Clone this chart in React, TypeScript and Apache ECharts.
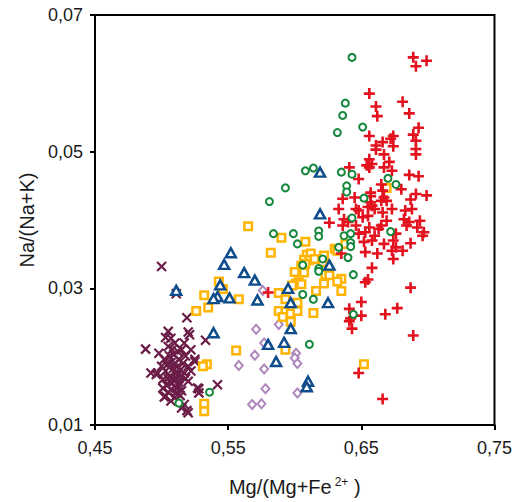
import React, { useEffect, useRef } from "react";
import * as echarts from "echarts";

const xTicks = [0.45, 0.55, 0.65, 0.75];
const yTicks = [0.01, 0.03, 0.05, 0.07];

const groupX: number[][] = [
  [0.500,0.0332],[0.511,0.0292],[0.519,0.0257],[0.505,0.0237],[0.521,0.0232],[0.533,0.0224],[0.488,0.0211],[0.542,0.0159],[0.528,0.0153],[0.519,0.0121],[0.502,0.0141],[0.492,0.0176],[0.525,0.0193],[0.520,0.0236],[0.507,0.0227],[0.510,0.0220],[0.498,0.0205],[0.515,0.0210],[0.522,0.0210],[0.506,0.0201],[0.518,0.0201],[0.525,0.0196],[0.507,0.0191],[0.512,0.0186],[0.500,0.0186],[0.520,0.0186],[0.496,0.0174],[0.503,0.0179],[0.510,0.0176],[0.522,0.0179],[0.515,0.0171],[0.501,0.0167],[0.506,0.0164],[0.513,0.0162],[0.520,0.0164],[0.527,0.0154],[0.501,0.0154],[0.507,0.0152],[0.515,0.0150],[0.503,0.0142],[0.510,0.0140],[0.528,0.0147],[0.507,0.0135],[0.517,0.0130],[0.515,0.0125],[0.520,0.0118],[0.511,0.0154],[0.505,0.0215],[0.508,0.0210],[0.517,0.0220],[0.506,0.0171],[0.502,0.0196],[0.497,0.0176],[0.510,0.0190],[0.514,0.0180],[0.508,0.0161],[0.511,0.0169],[0.517,0.0176],[0.511,0.0147],[0.504,0.0158],[0.513,0.0157],[0.509,0.0183],
  [0.509,0.0203],[0.513,0.0196],[0.504,0.0188],[0.516,0.0190],[0.505,0.0168],[0.512,0.0173],[0.509,0.0166],[0.514,0.0143],[0.505,0.0148],[0.518,0.0168],[0.512,0.0208],[0.503,0.0228]
];

const groupDiamond: number[][] = [
  [0.571,0.0240],[0.570,0.0202],[0.558,0.0187],[0.568,0.0130],[0.576,0.0297],[0.588,0.0247],[0.577,0.0220],[0.601,0.0205],[0.600,0.0198],[0.602,0.0190],[0.577,0.0182],[0.578,0.0153],[0.602,0.0147],[0.575,0.0131]
];

const groupSquare: number[][] = [
  [0.543,0.0310],[0.546,0.0299],[0.532,0.0290],[0.558,0.0284],[0.535,0.0272],[0.526,0.0267],[0.556,0.0209],[0.534,0.0189],[0.531,0.0186],[0.532,0.0131],[0.532,0.0120],[0.565,0.0391],[0.590,0.0374],[0.582,0.0352],[0.608,0.0368],[0.630,0.0358],[0.638,0.0365],[0.609,0.0349],[0.612,0.0351],[0.607,0.0342],[0.611,0.0341],[0.615,0.0343],[0.608,0.0336],[0.605,0.0333],[0.622,0.0348],[0.621,0.0338],[0.600,0.0324],[0.607,0.0323],[0.623,0.0320],[0.626,0.0319],[0.635,0.0314],[0.632,0.0310],[0.603,0.0309],[0.601,0.0307],[0.598,0.0304],[0.605,0.0306],[0.622,0.0307],[0.635,0.0296],[0.616,0.0296],[0.588,0.0293],[0.593,0.0284],[0.602,0.0279],[0.588,0.0267],[0.593,0.0266],[0.597,0.0263],[0.602,0.0267],[0.591,0.0258],[0.597,0.0251],[0.614,0.0264],[0.593,0.0210],[0.652,0.0189],[0.669,0.0447],[0.632,0.0355]
];

const groupTriangle: number[][] = [
  [0.552,0.0352],[0.547,0.0335],[0.562,0.0323],[0.570,0.0312],[0.544,0.0305],[0.511,0.0297],[0.542,0.0288],[0.539,0.0285],[0.551,0.0286],[0.572,0.0283],[0.539,0.0235],[0.619,0.0470],[0.619,0.0409],[0.595,0.0300],[0.597,0.0279],[0.626,0.0334],[0.625,0.0279],[0.597,0.0241],[0.580,0.0218],[0.592,0.0221],[0.586,0.0193],[0.610,0.0164],[0.609,0.0156]
];

const groupPlus: number[][] = [
  [0.580,0.0294],[0.641,0.0477],[0.648,0.0460],[0.626,0.0396],[0.633,0.0416],[0.636,0.0392],[0.645,0.0433],[0.641,0.0270],[0.650,0.0280],[0.650,0.0260],[0.642,0.0256],[0.643,0.0241],[0.648,0.0176],[0.653,0.0309],[0.689,0.0638],[0.699,0.0633],[0.691,0.0625],[0.656,0.0585],[0.661,0.0566],[0.662,0.0552],[0.681,0.0573],[0.686,0.0556],[0.693,0.0535],[0.689,0.0525],[0.656,0.0523],[0.691,0.0516],[0.691,0.0504],[0.691,0.0496],[0.674,0.0523],[0.672,0.0519],[0.666,0.0514],[0.661,0.0509],[0.661,0.0503],[0.674,0.0508],[0.667,0.0496],[0.656,0.0489],[0.671,0.0485],[0.658,0.0482],[0.654,0.0480],[0.656,0.0477],[0.667,0.0477],[0.673,0.0472],[0.686,0.0466],[0.693,0.0464],[0.680,0.0445],[0.691,0.0438],[0.699,0.0436],[0.657,0.0440],[0.665,0.0452],[0.666,0.0443],[0.636,0.0431],[0.657,0.0435],[0.687,0.0430],[0.646,0.0416],[0.648,0.0414],[0.655,0.0419],[0.658,0.0421],[0.660,0.0416],[0.666,0.0411],[0.667,0.0433],[0.669,0.0428],[0.673,0.0416],[0.683,0.0414],[0.688,0.0416],[0.637,0.0401],[0.640,0.0397],[0.651,0.0404],[0.655,0.0406],[0.669,0.0399],[0.682,0.0401],[0.686,0.0397],[0.694,0.0399],[0.646,0.0392],[0.656,0.0389],[0.663,0.0387],[0.665,0.0392],[0.684,0.0392],[0.692,0.0389],[0.697,0.0382],[0.696,0.0377],[0.648,0.0380],[0.653,0.0382],[0.660,0.0377],[0.676,0.0380],[0.652,0.0368],[0.658,0.0370],[0.667,0.0365],[0.674,0.0370],[0.676,0.0360],[0.687,0.0366],[0.653,0.0353],[0.662,0.0351],[0.673,0.0355],[0.681,0.0355],[0.674,0.0343],[0.635,0.0351],[0.665,0.0428],[0.657,0.0426],[0.658,0.0330],[0.655,0.0313],[0.687,0.0301],[0.677,0.0271],[0.668,0.0262],[0.641,0.0252],[0.689,0.0231],[0.666,0.0138]
];

const groupCircle: number[][] = [
  [0.536,0.0148],[0.513,0.0132],[0.608,0.0472],[0.614,0.0476],[0.635,0.0470],[0.643,0.0467],[0.639,0.0450],[0.639,0.0441],[0.593,0.0447],[0.581,0.0427],[0.652,0.0432],[0.643,0.0403],[0.584,0.0380],[0.599,0.0380],[0.602,0.0365],[0.618,0.0384],[0.618,0.0376],[0.637,0.0377],[0.642,0.0380],[0.633,0.0360],[0.642,0.0367],[0.642,0.0361],[0.621,0.0343],[0.606,0.0334],[0.618,0.0329],[0.618,0.0325],[0.640,0.0345],[0.644,0.0320],[0.606,0.0291],[0.614,0.0284],[0.611,0.0218],[0.644,0.0262],[0.643,0.0638],[0.638,0.0571],[0.636,0.0553],[0.632,0.0528],[0.651,0.0536],[0.670,0.0461],[0.676,0.0452],[0.672,0.0383]
];

const fmt = (v: number) => v.toFixed(2).replace(".", ",");

export default function App() {
  const ref = useRef<HTMLDivElement>(null);
  useEffect(() => {
    if (!ref.current) return;
    const chart = echarts.init(ref.current, undefined, { renderer: "svg" });
    const axisCommon = {
      axisLine: { show: true, onZero: false, lineStyle: { color: "#000", width: 2 } },
      axisTick: { show: true, inside: false, length: 5, lineStyle: { color: "#000", width: 2 } },
      splitLine: { show: false },
    };
    const hollow = (color: string, width: number) => ({
      color: "#fff",
      borderColor: color,
      borderWidth: width,
      opacity: 1,
    });
    const stroked = (color: string, width: number) => ({
      color: "none",
      borderColor: color,
      borderWidth: width,
      opacity: 1,
    });
    const font = "Liberation Sans, Arial, sans-serif";
    chart.setOption({
      animation: false,
      backgroundColor: "#fff",
      grid: {
        left: 95,
        right: 19,
        top: 15,
        bottom: 75,
        show: true,
        borderColor: "#000",
        borderWidth: 2,
        backgroundColor: "transparent",
      },
      xAxis: {
        type: "value",
        min: xTicks[0],
        max: xTicks[xTicks.length - 1],
        interval: 0.1,
        ...axisCommon,
        axisLabel: {
          formatter: fmt,
          fontFamily: font,
          fontSize: 18,
          color: "#1a1a1a",
          margin: 14,
        },
        name: "Mg/(Mg+Fe{sup|2+} )",
        nameLocation: "middle",
        nameGap: 51,
        nameTextStyle: {
          fontFamily: font,
          fontSize: 20,
          color: "#1a1a1a",
          rich: {
            sup: {
              fontFamily: font,
              fontSize: 12,
              color: "#1a1a1a",
              verticalAlign: "top",
              padding: [0, 0, 10, 3],
            },
          },
        },
      },
      yAxis: {
        type: "value",
        min: yTicks[0],
        max: yTicks[yTicks.length - 1],
        interval: 0.02,
        ...axisCommon,
        axisLabel: {
          formatter: fmt,
          fontFamily: font,
          fontSize: 18,
          color: "#1a1a1a",
          margin: 12,
        },
        name: "Na/(Na+K)",
        nameLocation: "middle",
        nameGap: 50,
        nameTextStyle: {
          fontFamily: font,
          fontSize: 20,
          color: "#1a1a1a",
        },
      },
      series: [
        {
          type: "scatter",
          data: groupX,
          symbol: "path://M0,0L10,10M10,0L0,10",
          symbolSize: 9,
          itemStyle: stroked("#6b1d48", 2.2),
          silent: true,
        },
        {
          type: "scatter",
          data: groupDiamond,
          symbol: "diamond",
          symbolSize: [8, 9],
          itemStyle: hollow("#ad88bd", 2),
          silent: true,
        },
        {
          type: "scatter",
          data: groupSquare,
          symbol: "rect",
          symbolSize: 7.5,
          itemStyle: hollow("#ffb400", 2.5),
          silent: true,
        },
        {
          type: "scatter",
          data: groupTriangle,
          symbol: "triangle",
          symbolSize: [10, 9],
          itemStyle: hollow("#0f4c8c", 2.5),
          silent: true,
        },
        {
          type: "scatter",
          data: groupPlus,
          symbol: "path://M0,5L10,5M5,0L5,10",
          symbolSize: 11,
          itemStyle: stroked("#e2131f", 2.6),
          silent: true,
        },
        {
          type: "scatter",
          data: groupCircle,
          symbol: "circle",
          symbolSize: 7,
          itemStyle: hollow("#13883c", 2),
          silent: true,
        },
      ],
    });
    return () => chart.dispose();
  }, []);
  return (
    <div
      ref={ref}
      style={{ position: "fixed", left: 0, top: 0, width: 515, height: 502, background: "#fff" }}
    />
  );
}
